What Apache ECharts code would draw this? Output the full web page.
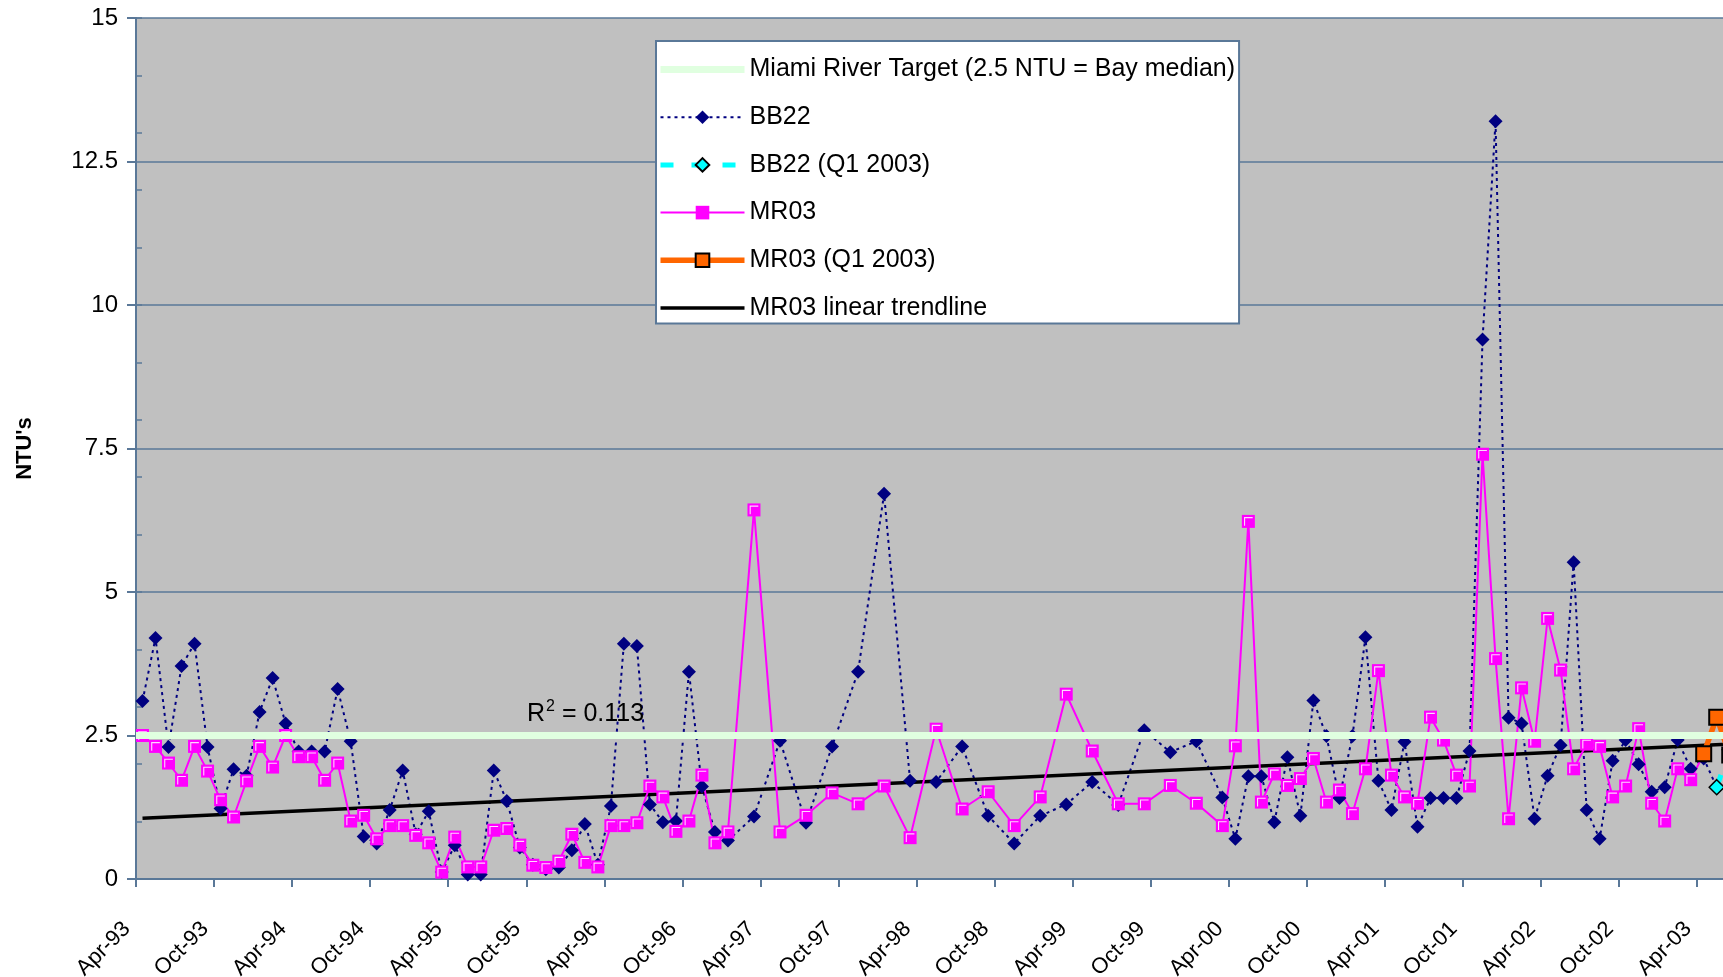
<!DOCTYPE html>
<html><head><meta charset="utf-8">
<script src="https://cdn.jsdelivr.net/npm/echarts@6/dist/echarts.min.js"></script>
<style>html,body{margin:0;padding:0;background:#fff;overflow:hidden;width:1723px;height:977px}#c{width:1760px;height:977px}</style>
</head><body><div id="c"></div>
<script>
// ---------- data ----------
const MONTH_NAMES = ['Jan','Feb','Mar','Apr','May','Jun','Jul','Aug','Sep','Oct','Nov','Dec'];
const START_YEAR = 1993, START_MONTH = 3, N_MONTHS = 124; // Apr-93 .. Jul-03
const CATEGORIES = [];
for (let k = 0; k < N_MONTHS; k++) {
  const m = (START_MONTH + k) % 12, y = START_YEAR + Math.floor((START_MONTH + k) / 12);
  CATEGORIES.push(MONTH_NAMES[m] + '-' + String(y % 100).padStart(2, '0'));
}
const TARGET = 2.5;
const BB22 = [
 3.10,4.20,2.30,3.71,4.10,2.30,1.23,1.91,1.80,2.91,3.50,2.71,
 2.22,2.22,2.22,3.31,2.40,0.74,0.62,1.20,1.89,0.78,1.18,0.12,
 0.59,0.08,0.08,1.89,1.36,0.55,0.25,0.17,0.20,0.50,0.96,0.25,
 1.27,4.10,4.06,1.30,0.99,1.01,3.61,1.61,0.82,0.67,null,1.09,
 null,2.41,null,0.98,null,2.31,null,3.61,null,6.71,null,1.71,
 null,1.69,null,2.31,null,1.10,null,0.62,null,1.10,null,1.30,
 null,1.69,null,1.29,null,2.59,null,2.21,null,2.40,null,1.42,
 0.70,1.79,1.79,0.99,2.12,1.10,3.11,2.49,1.41,2.49,4.21,1.71,
 1.20,2.39,0.91,1.41,1.41,1.41,2.23,9.40,13.20,2.81,2.71,1.05,
 1.80,2.33,5.52,1.20,0.70,2.06,2.42,2.00,1.52,1.60,2.42,1.92,
 2.10,1.60];
const MR03 = [
 2.50,2.31,2.02,1.72,2.31,1.88,1.38,1.08,1.71,2.31,1.95,2.50,
 2.13,2.13,1.72,2.02,1.01,1.11,0.70,0.93,0.93,0.76,0.63,0.12,
 0.73,0.21,0.21,0.85,0.88,0.59,0.24,0.20,0.31,0.78,0.29,0.21,
 0.93,0.93,0.98,1.62,1.43,0.83,1.01,1.81,0.63,0.82,null,6.43,
 null,0.82,null,1.11,null,1.50,null,1.31,null,1.62,null,0.72,
 null,2.61,null,1.22,null,1.52,null,0.93,null,1.43,null,3.22,
 null,2.23,null,1.31,null,1.31,null,1.63,null,1.32,null,0.93,
 2.32,6.23,1.34,1.83,1.63,1.75,2.10,1.34,1.55,1.14,1.92,3.63,
 1.81,1.43,1.32,2.82,2.42,1.81,1.62,7.40,3.84,1.05,3.33,2.40,
 4.54,3.64,1.92,2.35,2.31,1.43,1.62,2.62,1.32,1.01,1.92,1.73,
 2.18];
const BB22_Q1_IDX = [121, 122];
const BB22_Q1 = [1.60, 2.25];
const MR03_Q1_IDX = [120, 121, 122];
const MR03_Q1 = [2.18, 2.82, 2.16];
const TREND_IDX = [0, 123];
const TREND = [1.06, 2.36];
const R2_TEXT = '0.113';
const Y_TICKS_MAJOR = 2.5, Y_TICKS_MINOR = 1;
const NAMES = ['Miami River Target (2.5 NTU = Bay median)','BB22','BB22 (Q1 2003)','MR03','MR03 (Q1 2003)','MR03 linear trendline'];

// ---------- style ----------
const FONT = 'Liberation Sans, Arial, sans-serif';
const AX = '#5A7898', GREEN = '#E0FFE0', NAVY = '#000080', MAG = '#FF00FF', ORANGE = '#FF6600', CYAN = '#00FFFF';
const pairs = (idx, vals) => idx.map((x, k) => [x, vals[k]]);
const HL = 'path://M0,0h0.01v0.01h-0.01ZM12,12h-0.01v-0.01h0.01ZM2,2H10V3H3V10H2Z';

const chart = echarts.init(document.getElementById('c'), null, {renderer: 'canvas'});
chart.setOption({
  animation: false,
  backgroundColor: '#ffffff',
  grid: {left: 136, top: 18, width: 13.01 * N_MONTHS, height: 861, show: true,
         backgroundColor: '#C0C0C0', borderWidth: 0, containLabel: false, outerBoundsMode: 'none'},
  legend: {
    orient: 'vertical', left: 656, top: 41, padding: [16, 4, 3, 1],
    itemWidth: 84, itemHeight: 17, itemGap: 22.7,
    backgroundColor: '#fff', borderColor: AX, borderWidth: 2, borderRadius: 0,
    lineStyle: {width: 'inherit'},
    textStyle: {fontFamily: FONT, fontSize: 25, color: '#000', lineHeight: 24},
    data: [
      {name: NAMES[0], itemStyle: {opacity: 0}},
      NAMES[1], NAMES[2], NAMES[3], NAMES[4],
      {name: NAMES[5], itemStyle: {opacity: 0}}
    ],
    selectedMode: false
  },
  xAxis: {
    type: 'category', data: CATEGORIES, boundaryGap: true,
    axisLine: {show: true, lineStyle: {color: AX, width: 2}},
    axisTick: {show: true, interval: 5, length: 8, lineStyle: {color: AX, width: 2}},
    axisLabel: {interval: 5, rotate: 45, margin: 31, padding: [0, 22, 0, 0], fontFamily: FONT, fontSize: 22, color: '#000'},
    splitLine: {show: false}
  },
  yAxis: [{
    type: 'value', min: 0, max: 15, interval: Y_TICKS_MAJOR,
    name: "NTU's", nameLocation: 'middle', nameGap: 100,
    nameTextStyle: {fontFamily: FONT, fontSize: 22, fontWeight: 'bold', color: '#000'},
    axisLine: {show: true, lineStyle: {color: AX, width: 2}},
    axisTick: {show: true, length: 9, lineStyle: {color: AX, width: 2}},
    axisLabel: {fontFamily: FONT, fontSize: 24, color: '#000', margin: 18},
    splitLine: {show: true, lineStyle: {color: AX, width: 1.5}}
  }, {
    type: 'value', min: 0, max: 15, interval: Y_TICKS_MINOR, position: 'left',
    axisLine: {show: false}, axisLabel: {show: false}, splitLine: {show: false},
    axisTick: {show: true, inside: true, length: 6, lineStyle: {color: AX, width: 1.5}}
  }],
  graphic: [{
    type: 'text', left: 527, top: 699, z: 50,
    style: {
      text: '{r|R}{s|2}{r| = ' + R2_TEXT + '}',
      rich: {
        r: {fontFamily: FONT, fontSize: 25, fill: '#000', lineHeight: 30},
        s: {fontFamily: FONT, fontSize: 16, fill: '#000', verticalAlign: 'top', lineHeight: 30, padding: [0, 0, 12, 1]}
      }
    }
  }],
  series: [
    {name: NAMES[0], type: 'line', data: [], symbol: 'none',
     lineStyle: {color: GREEN, width: 7}, itemStyle: {color: GREEN},
     markLine: {silent: true, symbol: ['none', 'none'], label: {show: false},
       lineStyle: {color: GREEN, width: 7, type: 'solid'}, data: [{yAxis: TARGET}]}},
    {name: NAMES[1], type: 'line', data: BB22, connectNulls: true, showAllSymbol: true,
     symbol: 'diamond', symbolSize: 14,
     lineStyle: {color: NAVY, width: 2, type: [3, 4]}, itemStyle: {color: NAVY}},
    {name: NAMES[2], type: 'line', data: pairs(BB22_Q1_IDX, BB22_Q1), showAllSymbol: true,
     symbol: 'diamond', symbolSize: 15,
     lineStyle: {color: CYAN, width: 5, type: [13, 18]}, itemStyle: {color: CYAN, borderColor: '#000', borderWidth: 1.5}},
    {name: NAMES[5], type: 'line', data: pairs(TREND_IDX, TREND), symbol: 'none',
     lineStyle: {color: '#000', width: 3.5}, itemStyle: {color: '#000'}},
    {name: NAMES[3], type: 'line', data: MR03, connectNulls: true, showAllSymbol: true,
     symbol: 'rect', symbolSize: 13,
     lineStyle: {color: MAG, width: 2}, itemStyle: {color: MAG}},
    {name: 'MR03 highlight', type: 'line', data: MR03, connectNulls: true, showAllSymbol: true, silent: true,
     symbol: HL, symbolSize: 13, lineStyle: {width: 0, opacity: 0}, itemStyle: {color: '#FFD8FF'}},
    {name: NAMES[4], type: 'line', data: pairs(MR03_Q1_IDX, MR03_Q1), showAllSymbol: true,
     symbol: 'rect', symbolSize: 15,
     lineStyle: {color: ORANGE, width: 5.5}, itemStyle: {color: ORANGE, borderColor: '#000', borderWidth: 2}}
  ]
});
</script></body></html>
